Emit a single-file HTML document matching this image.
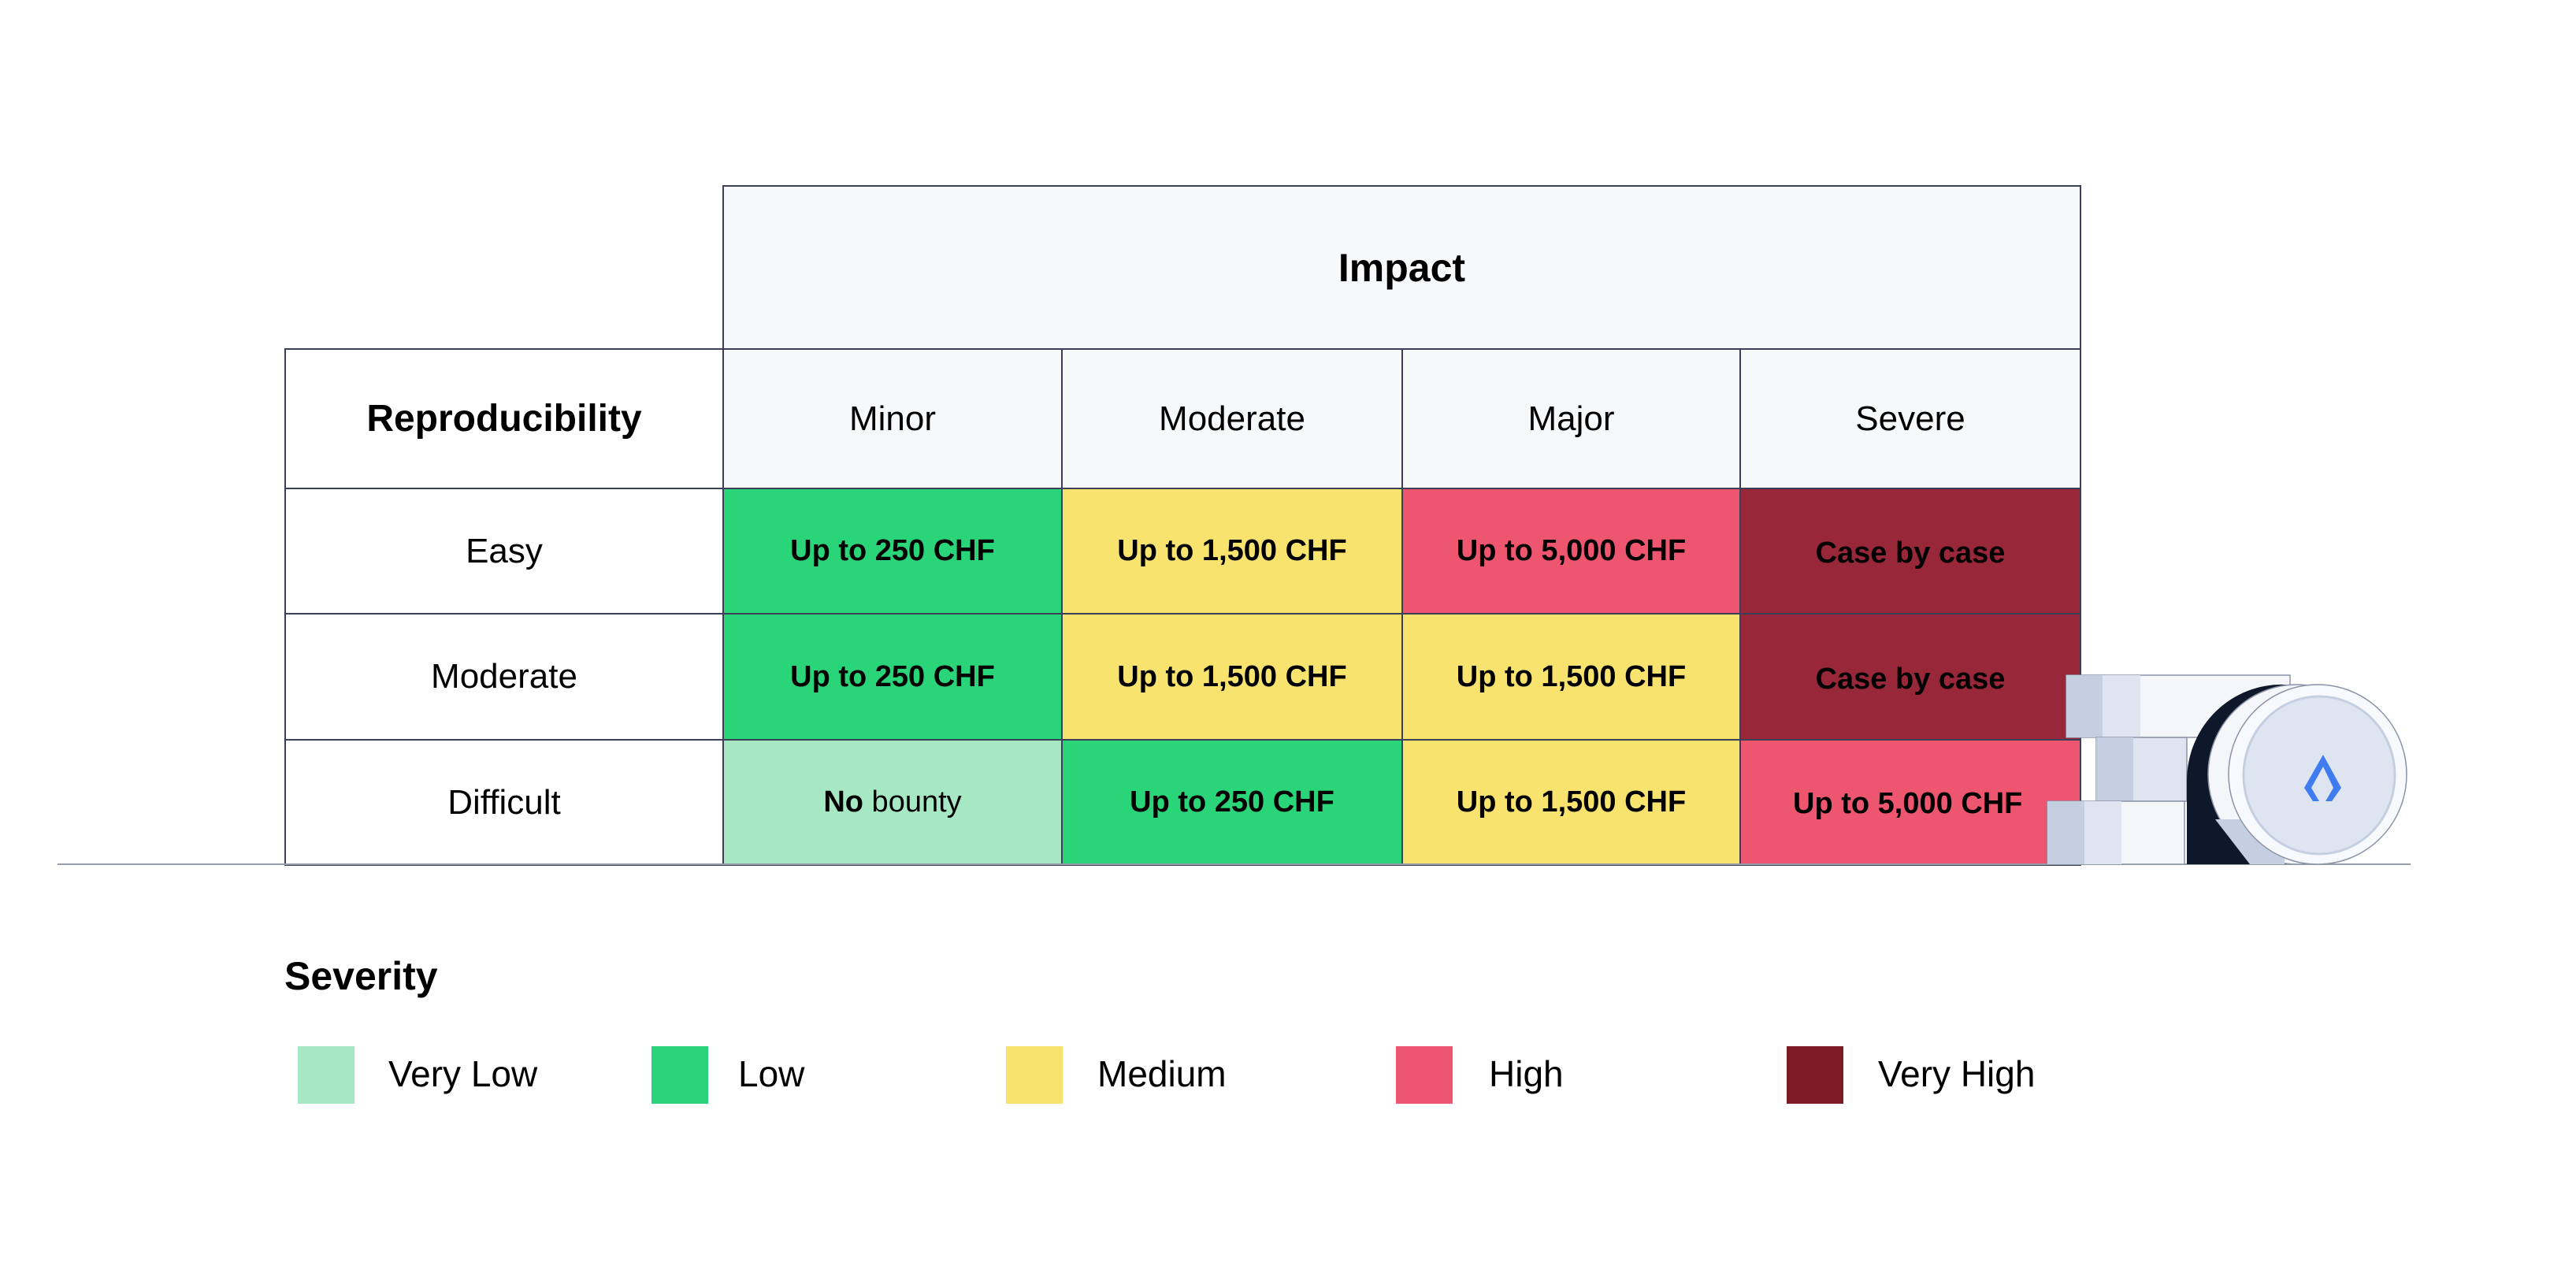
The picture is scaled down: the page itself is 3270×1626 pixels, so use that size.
<!DOCTYPE html>
<html><head><meta charset="utf-8"><style>
*{margin:0;padding:0;box-sizing:border-box}
body{width:3270px;height:1626px;background:#fff;position:relative;overflow:hidden;font-family:"Liberation Sans",Arial,sans-serif;color:#000}
.c{position:absolute;border:2px solid #3b4058;display:flex;align-items:center;justify-content:center;text-align:center}
.h{background:#f7f8fa}
.t{font-size:44px;font-weight:normal}
.b{font-size:38px;font-weight:bold}
.g{background:#2ad57a}.lg{background:#a7e8c4}.y{background:#f7e36e}.r{background:#ee566f}.dr{background:#98273a}
.sw{position:absolute;width:72px;height:73px;top:1328px}
.lt{position:absolute;top:1336px;font-size:46px}
</style></head><body>
<div class="c h" style="left:917px;top:235px;width:1725px;height:209px;font-size:50px;font-weight:bold">Impact</div>
<div class="c" style="left:361px;top:442px;width:558px;height:179px;font-size:48px;font-weight:bold">Reproducibility</div>
<div class="c h t" style="left:917px;top:442px;width:432px;height:179px">Minor</div>
<div class="c h t" style="left:1347px;top:442px;width:434px;height:179px">Moderate</div>
<div class="c h t" style="left:1779px;top:442px;width:431px;height:179px">Major</div>
<div class="c h t" style="left:2208px;top:442px;width:434px;height:179px">Severe</div>

<div class="c t" style="left:361px;top:619px;width:558px;height:161px">Easy</div>
<div class="c b g" style="left:917px;top:619px;width:432px;height:161px">Up to 250 CHF</div>
<div class="c b y" style="left:1347px;top:619px;width:434px;height:161px">Up to 1,500 CHF</div>
<div class="c b r" style="left:1779px;top:619px;width:431px;height:161px">Up to 5,000 CHF</div>
<div class="c b dr" style="left:2208px;top:619px;width:434px;height:161px;padding-top:6px">Case by case</div>

<div class="c t" style="left:361px;top:778px;width:558px;height:162px">Moderate</div>
<div class="c b g" style="left:917px;top:778px;width:432px;height:162px">Up to 250 CHF</div>
<div class="c b y" style="left:1347px;top:778px;width:434px;height:162px">Up to 1,500 CHF</div>
<div class="c b y" style="left:1779px;top:778px;width:431px;height:162px">Up to 1,500 CHF</div>
<div class="c b dr" style="left:2208px;top:778px;width:434px;height:162px;padding-top:6px">Case by case</div>

<div class="c t" style="left:361px;top:938px;width:558px;height:161px">Difficult</div>
<div class="c lg" style="left:917px;top:938px;width:432px;height:161px;font-size:38px"><b>No</b>&nbsp;bounty</div>
<div class="c b g" style="left:1347px;top:938px;width:434px;height:161px">Up to 250 CHF</div>
<div class="c b y" style="left:1779px;top:938px;width:431px;height:161px">Up to 1,500 CHF</div>
<div class="c b r" style="left:2208px;top:938px;width:434px;height:161px;justify-content:flex-start;padding-left:66px;padding-top:4px">Up to 5,000 CHF</div>

<div style="position:absolute;left:73px;top:1096px;width:2987px;height:2px;background:#9a9ea8"></div>

<svg style="position:absolute;left:0;top:0" width="3270" height="1626">
 <g stroke="#8c93a8" stroke-width="1.5">
  <rect x="2623" y="857" width="284" height="79" fill="#f4f6fa"/>
  <rect x="2623" y="857" width="46" height="79" fill="#c5cfe2" stroke="none"/>
  <rect x="2669" y="857" width="48" height="79" fill="#dfe5f0" stroke="none"/>
  <rect x="2661" y="936" width="115" height="81" fill="#dfe5f0"/>
  <rect x="2661" y="936" width="47" height="81" fill="#c5cfe2" stroke="none"/>
  <rect x="2599" y="1017" width="174" height="80" fill="#f4f6fa"/>
  <rect x="2599" y="1017" width="47" height="80" fill="#c5cfe2" stroke="none"/>
  <rect x="2646" y="1017" width="47" height="80" fill="#dfe5f0" stroke="none"/>
  <path d="M2776 1097 L2776 990 A120 122 0 0 1 2900 869 L2942 869 L2942 1097 Z" fill="#0f172a" stroke="none"/>
  <ellipse cx="2916" cy="983" rx="113" ry="114" fill="#f4f6fa"/>
  <path d="M2812 1040 L2900 1040 L2900 1097 L2856 1097 Z" fill="#c5cfe2" stroke="none"/>
  <ellipse cx="2942" cy="983" rx="113" ry="114" fill="#f8f9fc"/>
  <ellipse cx="2944" cy="984" rx="96" ry="100" fill="#dfe5f0" stroke="#c5cfe2" stroke-width="3"/>
 </g>
 <path d="M2949 958 L2925 1000 L2936 1017 L2944 1017 L2934 1000 L2949 973 L2962 1000 L2952 1017 L2960 1017 L2972 1000 Z" fill="#3f7cf0"/>
</svg>

<div style="position:absolute;left:361px;top:1210px;font-size:50px;font-weight:bold">Severity</div>
<div class="sw lg" style="left:378px"></div><div class="lt" style="left:493px">Very Low</div>
<div class="sw g" style="left:827px"></div><div class="lt" style="left:937px">Low</div>
<div class="sw y" style="left:1277px"></div><div class="lt" style="left:1393px">Medium</div>
<div class="sw r" style="left:1772px"></div><div class="lt" style="left:1890px">High</div>
<div class="sw" style="left:2268px;background:#7a1c22"></div><div class="lt" style="left:2384px">Very High</div>
</body></html>
